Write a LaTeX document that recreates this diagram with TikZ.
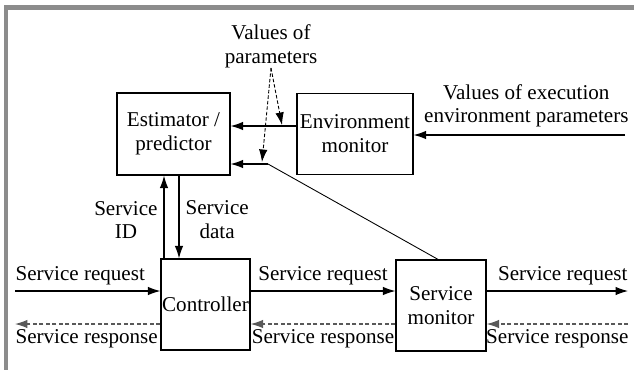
\documentclass[tikz,border=0pt]{standalone}
\usepackage{fontspec}
\setmainfont{Liberation Serif}
\usetikzlibrary{arrows.meta}

\begin{document}
\begin{tikzpicture}[x=0.02cm,y=-0.02cm,font=\fontsize{12}{13.6}\selectfont,
  >={Latex[length=2.5mm,width=1.7mm]}]
  \tikzstyle{block}=[draw, line width=0.7pt, align=center, inner sep=0pt]
  \tikzstyle{req}=[->, line width=0.6pt]
  \tikzstyle{resp}=[->, line width=0.6pt, black!65, dash pattern=on .08cm off .05cm]
  \tikzstyle{hint}=[->, line width=0.5pt, dash pattern=on .07cm off .04cm]
  \tikzstyle{lbl}=[align=center, black]
  \useasboundingbox (0,0) rectangle (634,369);
  \begin{scope}
    \clip (0,0) rectangle (634,369);
    \draw[black!45, line width=0.1cm] (6,7) rectangle (640,372);
  \end{scope}
  % boxes
  \node[block, minimum width=2.26cm, minimum height=1.64cm] (est) at (173.5,134) {Estimator /\\predictor};
  \node[block, minimum width=2.32cm, minimum height=1.62cm] (env) at (355,134) {Environment\\monitor};
  \node[block, minimum width=1.78cm, minimum height=1.82cm] (ctrl) at (205.5,304.5) {Controller};
  \node[block, minimum width=1.80cm, minimum height=1.82cm] (smon) at (441,305.5) {Service\\monitor};
  % free ends
  \coordinate (envin) at (625,135);
  \coordinate (kink) at (268,164);
  \coordinate (reqin) at (15,291);
  \coordinate (reqout) at (628,291);
  \coordinate (respin) at (628,324);
  \coordinate (respout) at (15,324);
  \coordinate (tipA) at (282,125);
  \coordinate (tipB) at (262,162);
  % environment side
  \draw[req] (envin) -- (env.east |- envin)
    node[lbl, midway, above, inner sep=0pt, yshift=.14cm, xshift=.14cm] {Values of execution\\environment parameters};
  \draw[req] ([yshift=.16cm]env.west) -- ([yshift=.16cm]est.east);
  \draw[req] (kink) -- (est.east |- kink);
  \draw[line width=0.5pt] (kink) -- ([xshift=-.06cm]smon.north);
  \node[lbl, inner sep=0pt, anchor=south] (par) at (271,68) {Values of\\parameters};
  \draw[hint] (par.south) -- (tipA);
  \draw[hint] (par.south) -- (tipB);
  % controller and estimator
  \draw[req] ([xshift=-.83cm]ctrl.north) -- ([xshift=-.83cm]ctrl.north |- est.south)
    node[lbl, midway, left, inner sep=.12cm, yshift=-.06cm] {Service\\ID};
  \draw[req] ([xshift=-.53cm]ctrl.north |- est.south) -- ([xshift=-.53cm]ctrl.north)
    node[lbl, midway, right, inner sep=.12cm, yshift=-.06cm] {Service\\data};
  % request path
  \draw[req] (reqin) -- (ctrl.west |- reqin)
    node[pos=0, anchor=south west, inner xsep=0pt, inner ysep=.1cm] {Service request};
  \draw[req] (ctrl.east |- reqin) -- (smon.west |- reqin)
    node[midway, above, inner sep=.1cm] {Service request};
  \draw[req] (smon.east |- reqout) -- (reqout)
    node[pos=1, anchor=south east, inner xsep=0pt, inner ysep=.1cm] {Service request};
  % response path
  \draw[resp] (respin) -- (smon.east |- respin)
    node[lbl, midway, below, inner sep=.1cm] {Service response};
  \draw[resp] (smon.west |- respin) -- (ctrl.east |- respin)
    node[lbl, midway, below, inner sep=.1cm] {Service response};
  \draw[resp] (ctrl.west |- respout) -- (respout)
    node[lbl, pos=1, anchor=north west, inner xsep=0pt, inner ysep=.1cm] {Service response};
\end{tikzpicture}
\end{document}
